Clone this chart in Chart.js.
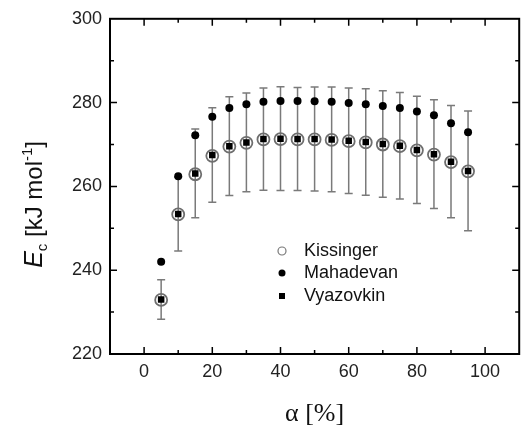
<!DOCTYPE html>
<html>
<head>
<meta charset="utf-8">
<script src="https://cdn.jsdelivr.net/npm/chart.js@4"></script>
<style>
  html, body { margin: 0; padding: 0; background: #fff; }
  #wrap { width: 527px; height: 428px; }
</style>
</head>
<body>
<div id="wrap"><canvas id="myChart" width="527" height="428"></canvas></div>
<script>
'use strict';

// conversion alpha [%]
let alphaArr = [5, 10, 15, 20, 25, 30, 35, 40, 45, 50, 55, 60, 65, 70, 75, 80, 85, 90, 95];

// activation energy [kJ/mol]
let kissingerArr = [232.9, 253.3, 262.9, 267.3, 269.5, 270.4, 271.2, 271.3, 271.2, 271.2, 271.1, 270.8, 270.5, 270.0, 269.6, 268.6, 267.6, 265.8, 263.6];
let mahadevanArr = [242.0, 262.4, 272.2, 276.6, 278.7, 279.6, 280.2, 280.4, 280.4, 280.3, 280.2, 279.9, 279.6, 279.2, 278.7, 277.9, 277.0, 275.1, 272.9];
let vyazovkinArr = [233.0, 253.4, 263.1, 267.5, 269.6, 270.5, 271.3, 271.4, 271.3, 271.3, 271.2, 270.9, 270.6, 270.1, 269.7, 268.7, 267.7, 265.9, 263.7];
let vyazovkinErr = [4.7, 8.8, 10.6, 11.3, 11.8, 11.8, 12.2, 12.4, 12.3, 12.4, 12.5, 12.6, 12.7, 12.7, 12.7, 12.8, 13.0, 13.4, 14.3];

let xTickLabels = [0, 20, 40, 60, 80, 100];
let yTickLabels = [220, 240, 260, 280, 300];

const FONT = "'Liberation Sans', Arial, sans-serif";

function toPoints(ys) {
  let pts = [];
  for (let i = 0; i < alphaArr.length; i++) {
    pts.push({ x: alphaArr[i], y: ys[i] });
  }
  return pts;
}

// error bars for Vyazovkin, drawn under the markers
const errorBars = {
  id: 'errorBars',
  beforeDatasetsDraw(chart) {
    const ctx = chart.ctx;
    const xs = chart.scales.x;
    const ys = chart.scales.y;
    ctx.save();
    ctx.strokeStyle = '#7a7a7a';
    ctx.lineWidth = 1.5;
    for (let i = 0; i < alphaArr.length; i++) {
      const px = xs.getPixelForValue(alphaArr[i]);
      const top = ys.getPixelForValue(vyazovkinArr[i] + vyazovkinErr[i]);
      const bot = ys.getPixelForValue(vyazovkinArr[i] - vyazovkinErr[i]);
      ctx.beginPath();
      ctx.moveTo(px, top); ctx.lineTo(px, bot);
      ctx.moveTo(px - 4, top); ctx.lineTo(px + 4, top);
      ctx.moveTo(px - 4, bot); ctx.lineTo(px + 4, bot);
      ctx.stroke();
    }
    ctx.restore();
  }
};

// frame, inward ticks, titles and legend
const frame = {
  id: 'frame',
  afterDraw(chart) {
    const ctx = chart.ctx;
    const a = chart.chartArea;
    const xs = chart.scales.x;
    const ys = chart.scales.y;
    ctx.save();
    ctx.strokeStyle = '#000';
    ctx.lineWidth = 2;
    ctx.strokeRect(a.left, a.top, a.right - a.left, a.bottom - a.top);

    ctx.lineWidth = 1.5;
    ctx.beginPath();
    xs.ticks.forEach(t => {
      if (t.value <= xs.min || t.value >= xs.max) return;
      const px = xs.getPixelForValue(t.value);
      const len = xTickLabels.includes(t.value) ? 7 : 4;
      ctx.moveTo(px, a.bottom); ctx.lineTo(px, a.bottom - len);
      ctx.moveTo(px, a.top); ctx.lineTo(px, a.top + len);
    });
    ys.ticks.forEach(t => {
      if (t.value <= ys.min || t.value >= ys.max) return;
      const py = ys.getPixelForValue(t.value);
      const len = yTickLabels.includes(t.value) ? 7 : 4;
      ctx.moveTo(a.left, py); ctx.lineTo(a.left + len, py);
      ctx.moveTo(a.right, py); ctx.lineTo(a.right - len, py);
    });
    ctx.stroke();

    // x title
    ctx.fillStyle = '#111';
    ctx.font = "26px 'Liberation Serif', 'Times New Roman', serif";
    ctx.textAlign = 'center';
    ctx.textBaseline = 'alphabetic';
    ctx.fillText('\u03b1 [%]', (a.left + a.right) / 2, 421);

    // y title: E_c [kJ mol^-1]
    const parts = [
      { t: 'E', f: "italic 25px " + FONT, dy: 0 },
      { t: 'c', f: "15px " + FONT, dy: 5 },
      { t: ' [kJ mol', f: "24px " + FONT, dy: 0 },
      { t: '-1', f: "15px " + FONT, dy: -10 },
      { t: ']', f: "24px " + FONT, dy: 0 }
    ];
    let total = 0;
    parts.forEach(p => { ctx.font = p.f; p.w = ctx.measureText(p.t).width; total += p.w; });
    ctx.translate(42, (a.top + a.bottom) / 2 + 18);
    ctx.rotate(-Math.PI / 2);
    ctx.textAlign = 'left';
    let cx = -total / 2;
    parts.forEach(p => {
      ctx.font = p.f;
      ctx.fillText(p.t, cx, p.dy);
      cx += p.w;
    });
    ctx.restore();

    // legend
    ctx.save();
    const items = chart.data.datasets;
    const lx = 282;
    const rows = [251, 273, 296];
    ctx.font = "18px " + FONT;
    ctx.textBaseline = 'middle';
    ctx.textAlign = 'left';
    ctx.fillStyle = '#111';
    items.forEach((ds, i) => {
      const y = rows[i];
      ctx.fillText(ds.label, lx + 22, y);
      ctx.lineWidth = 1.2;
      if (ds.pointStyle === 'rect') {
        ctx.fillStyle = '#000';
        ctx.fillRect(lx - 3, y - 3, 6, 6);
      } else if (ds.label === 'Kissinger') {
        ctx.strokeStyle = '#777';
        ctx.beginPath(); ctx.arc(lx, y, 4, 0, Math.PI * 2); ctx.stroke();
      } else {
        ctx.fillStyle = '#000';
        ctx.beginPath(); ctx.arc(lx, y, 3.5, 0, Math.PI * 2); ctx.fill();
      }
      ctx.fillStyle = '#111';
    });
    ctx.restore();
  }
};

let ctx = document.getElementById('myChart').getContext('2d');

let myChart = new Chart(ctx, {
  type: 'scatter',
  data: {
    datasets: [{
      label: 'Kissinger',
      data: toPoints(kissingerArr),
      pointStyle: 'circle',
      pointRadius: 6,
      pointBorderWidth: 1.8,
      borderColor: '#6e6e6e',
      backgroundColor: 'rgba(0,0,0,0)'
    }, {
      label: 'Mahadevan',
      data: toPoints(mahadevanArr),
      pointStyle: 'circle',
      pointRadius: 4,
      pointBorderWidth: 0,
      borderColor: '#000',
      backgroundColor: '#000'
    }, {
      label: 'Vyazovkin',
      data: toPoints(vyazovkinArr),
      pointStyle: 'rect',
      pointRadius: 4.6,
      pointBorderWidth: 0,
      borderColor: '#000',
      backgroundColor: '#000'
    }]
  },
  options: {
    responsive: false,
    animation: false,
    layout: { padding: { top: 15, right: 4, left: 0, bottom: 0 } },
    plugins: {
      legend: { display: false },
      tooltip: { enabled: false }
    },
    scales: {
      x: {
        type: 'linear',
        min: -10,
        max: 110,
        grid: { display: false, drawTicks: false, tickLength: 0 },
        border: { display: false },
        ticks: {
          stepSize: 10,
          padding: 7,
          color: '#222',
          font: { family: FONT, size: 18 },
          maxRotation: 0,
          autoSkip: false,
          callback: v => xTickLabels.includes(v) ? String(v) : ''
        },
        afterFit: s => { s.height = 74; }
      },
      y: {
        min: 220,
        max: 300,
        grid: { display: false, drawTicks: false, tickLength: 0 },
        border: { display: false },
        ticks: {
          stepSize: 10,
          padding: 8,
          color: '#222',
          font: { family: FONT, size: 18 },
          autoSkip: false,
          callback: v => yTickLabels.includes(v) ? String(v) : ''
        },
        afterFit: s => { s.width = 110; }
      }
    }
  },
  plugins: [errorBars, frame]
});
</script>
</body>
</html>
